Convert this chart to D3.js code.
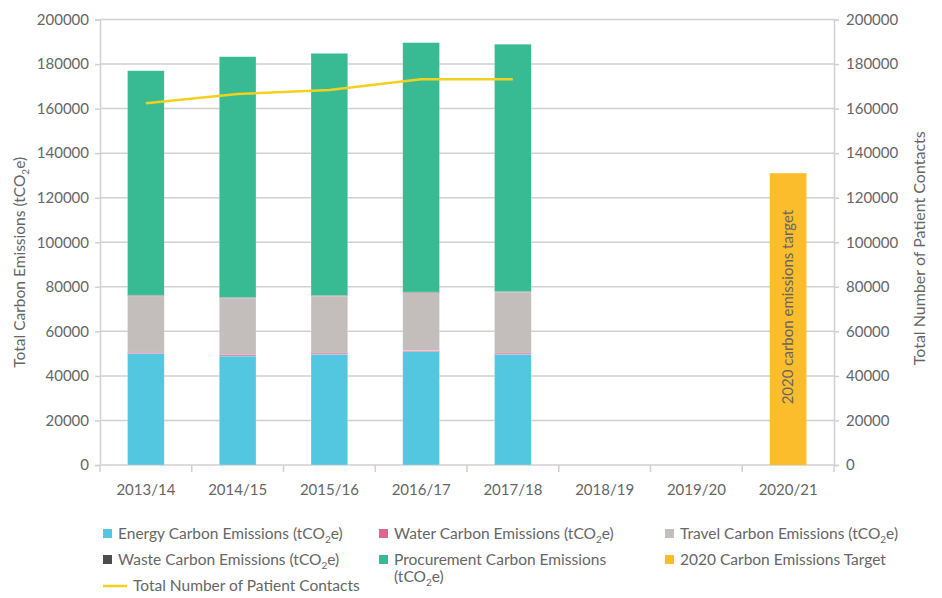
<!DOCTYPE html>
<html>
<head>
<meta charset="utf-8">
<script src="https://cdn.jsdelivr.net/npm/d3@7"></script>
<style>
  html, body { margin: 0; padding: 0; background: #fff; }
  svg { display: block; font-family: Lato, "Open Sans", sans-serif; font-weight: 400; }
</style>
</head>
<body>
<svg id="chart" width="942" height="598"></svg>
<script>
// Financial years on the category axis
const years = ["2013/14", "2014/15", "2015/16", "2016/17", "2017/18", "2018/19", "2019/20", "2020/21"];

// Emissions by source (tCO2e), stacked bottom to top
const energy      = [50100, 48900, 49700, 50900, 49700, null, null, null];
const water       = [550, 500, 550, 450, 550, null, null, null];
const travel      = [25300, 25600, 25600, 26000, 27400, null, null, null];
const waste       = [300, 300, 300, 300, 300, null, null, null];
const procurement = [100750, 108000, 108650, 111950, 110950, null, null, null];
const target2020  = [null, null, null, null, null, null, null, 131000];

// Patient contacts (right axis)
const patientContacts = [162400, 166600, 168300, 173200, 173200, null, null, null];

// Axis ticks
const leftTicks  = [0, 20000, 40000, 60000, 80000, 100000, 120000, 140000, 160000, 180000, 200000];
const rightTicks = [0, 20000, 40000, 60000, 80000, 100000, 120000, 140000, 160000, 180000, 200000];

const seriesNames = ["Energy", "Water", "Travel", "Waste", "Procurement"];
const seriesData = [energy, water, travel, waste, procurement];
const colors = {
  Energy: "#54c7e0",
  Water: "#e0668f",
  Travel: "#c3bebb",
  Waste: "#4d4d4d",
  Procurement: "#38bb93",
  Target: "#fcbd2d",
  Line: "#f3d11c"
};

const W = 942, H = 598;
const margin = { top: 19.5, right: 108, bottom: 133, left: 100 };
const innerW = W - margin.left - margin.right;
const innerH = H - margin.top - margin.bottom;

const svg = d3.select("#chart");
const g = svg.append("g").attr("transform", `translate(${margin.left},${margin.top})`);

const x = d3.scaleBand().domain(years).range([0, innerW]).paddingInner(0.6).paddingOuter(0.3);
const yL = d3.scaleLinear().domain([0, 200000]).range([innerH, 0]);
const yR = d3.scaleLinear().domain([0, 200000]).range([innerH, 0]);

const textColor = "#666666";
const gridColor = "#d4cfcf";

// Horizontal gridlines
g.append("g").selectAll("line").data(leftTicks.slice(1)).join("line")
  .attr("x1", 0).attr("x2", innerW)
  .attr("y1", d => yL(d)).attr("y2", d => yL(d))
  .attr("stroke", gridColor).attr("stroke-width", 1.5);

// Left axis
const leftAxis = g.append("g")
  .call(d3.axisLeft(yL).tickValues(leftTicks).tickFormat(d3.format("d")).tickSize(5).tickPadding(6));
// Right axis
const rightAxis = g.append("g").attr("transform", `translate(${innerW},0)`)
  .call(d3.axisRight(yR).tickValues(rightTicks).tickFormat(d3.format("d")).tickSize(5).tickPadding(7));

[leftAxis, rightAxis].forEach(a => {
  a.select(".domain").attr("stroke", gridColor).attr("stroke-width", 1.5);
  a.selectAll(".tick line").attr("stroke", gridColor).attr("stroke-width", 1.5);
  a.selectAll(".tick text").attr("fill", textColor).style("font-size", "15px")
    .style("font-family", "Lato, sans-serif");
});

// Bottom axis with boundary ticks between categories
const bottom = g.append("g").attr("transform", `translate(0,${innerH})`);
bottom.append("line").attr("x1", 0).attr("x2", innerW).attr("stroke", gridColor).attr("stroke-width", 1.5);
const step = x.step();
const boundaries = d3.range(years.length + 1).map(i => x(years[0]) - x.step() * x.paddingOuter() + i * step);
bottom.selectAll("line.bt").data(boundaries).join("line").attr("class", "bt")
  .attr("x1", d => d).attr("x2", d => d).attr("y1", 0).attr("y2", 7)
  .attr("stroke", gridColor).attr("stroke-width", 1.5);
bottom.selectAll("text").data(years).join("text")
  .attr("x", d => x(d) + x.bandwidth() / 2).attr("y", 30)
  .attr("text-anchor", "middle").attr("fill", textColor).style("font-size", "15px").text(d => d);

// Stacked bars
const rows = years.map((yr, i) => {
  const r = { year: yr };
  seriesNames.forEach((s, k) => r[s] = seriesData[k][i] || 0);
  return r;
});
const stacked = d3.stack().keys(seriesNames)(rows);
g.append("g").selectAll("g").data(stacked).join("g")
  .attr("fill", d => colors[d.key])
  .selectAll("rect").data(d => d.filter(p => p[1] > p[0])).join("rect")
  .attr("x", d => x(d.data.year)).attr("width", x.bandwidth())
  .attr("y", d => yL(d[1])).attr("height", d => yL(d[0]) - yL(d[1]))
  .attr("stroke", "#fff").attr("stroke-opacity", 0.35).attr("stroke-width", 0.6);

// Target bar
const targetData = years.map((yr, i) => ({ year: yr, v: target2020[i] })).filter(d => d.v != null);
g.append("g").selectAll("rect").data(targetData).join("rect")
  .attr("x", d => x(d.year)).attr("width", x.bandwidth())
  .attr("y", d => yL(d.v)).attr("height", d => innerH - yL(d.v))
  .attr("fill", colors.Target);
g.append("g").selectAll("text").data(targetData).join("text")
  .attr("transform", d => `translate(${x(d.year) + x.bandwidth() / 2 + 5},${yL(d.v) + (innerH - yL(d.v)) * 0.5 - 12}) rotate(-90)`)
  .attr("text-anchor", "middle").attr("fill", textColor).style("font-size", "15px")
  .text("2020 carbon emissions target");

// Patient contacts line
const linePts = years.map((yr, i) => ({ year: yr, v: patientContacts[i] })).filter(d => d.v != null);
g.append("path").datum(linePts)
  .attr("fill", "none").attr("stroke", colors.Line).attr("stroke-width", 2.5)
  .attr("d", d3.line().x(d => x(d.year) + x.bandwidth() / 2).y(d => yR(d.v)));

// Text with a subscript "2" in tCO2e
function co2Label(sel, prefix, suffix) {
  sel.append("tspan").text(prefix + "(tCO");
  sel.append("tspan").attr("dy", 4).style("font-size", "10px").text("2");
  sel.append("tspan").attr("dy", -4).text("e)" + (suffix || ""));
}

// Axis titles
const lt = svg.append("text")
  .attr("transform", `translate(25,${margin.top + innerH / 2 + 20}) rotate(-90)`)
  .attr("text-anchor", "middle").attr("fill", textColor).style("font-size", "15.5px");
co2Label(lt, "Total Carbon Emissions ");

svg.append("text")
  .attr("transform", `translate(925,${margin.top + innerH / 2 + 6}) rotate(-90)`)
  .attr("text-anchor", "middle").attr("fill", textColor).style("font-size", "16px")
  .text("Total Number of Patient Contacts");

// Legend
const legend = svg.append("g").style("font-size", "15.5px").attr("fill", textColor);
const legItems = [
  { key: "Energy", label: "Energy Carbon Emissions ", co2: true, x: 103, y: 534 },
  { key: "Water", label: "Water Carbon Emissions ", co2: true, x: 379, y: 534 },
  { key: "Travel", label: "Travel Carbon Emissions ", co2: true, x: 665, y: 534 },
  { key: "Waste", label: "Waste Carbon Emissions ", co2: true, x: 103, y: 560 },
  { key: "Procurement", label: "Procurement Carbon Emissions", co2: "wrap", x: 379, y: 560 },
  { key: "Target", label: "2020 Carbon Emissions Target", co2: false, x: 665, y: 560 }
];
legItems.forEach(it => {
  legend.append("rect").attr("x", it.x).attr("y", it.y - 5).attr("width", 9).attr("height", 9)
    .attr("fill", colors[it.key]);
  const t = legend.append("text").attr("x", it.x + 15).attr("y", it.y + 5);
  if (it.co2 === true) co2Label(t, it.label);
  else t.text(it.label);
  if (it.co2 === "wrap") {
    const t2 = legend.append("text").attr("x", it.x + 15).attr("y", it.y + 22);
    co2Label(t2, "");
  }
});
legend.append("line").attr("x1", 103).attr("x2", 127).attr("y1", 586).attr("y2", 586)
  .attr("stroke", colors.Line).attr("stroke-width", 2.5);
legend.append("text").attr("x", 133).attr("y", 591).text("Total Number of Patient Contacts");
</script>
</body>
</html>
